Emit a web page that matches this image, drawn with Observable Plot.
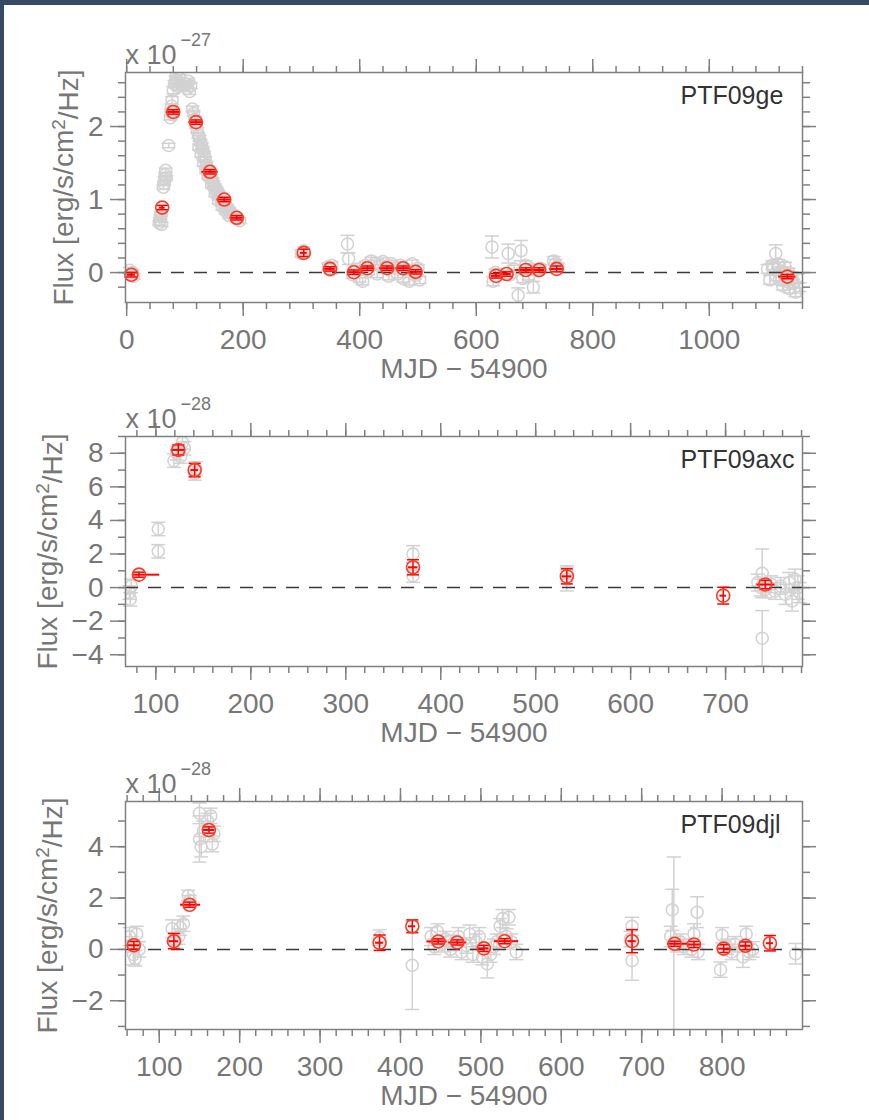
<!DOCTYPE html>
<html><head><meta charset="utf-8">
<script src="https://cdn.jsdelivr.net/npm/d3@7"></script>
<script src="https://cdn.jsdelivr.net/npm/@observablehq/plot@0.6"></script>
<style>
html,body{margin:0;padding:0;background:#fff;}
body{width:869px;height:1120px;position:relative;overflow:hidden;font-family:"Liberation Sans",Arial,sans-serif;}
#barTop{position:absolute;left:0;top:0;width:869px;height:5px;background:#364b63;z-index:2}
#barLeft{position:absolute;left:0;top:0;width:4px;height:1120px;background:#364b63;z-index:2}
svg{display:block}
</style></head><body>
<div id="barTop"></div><div id="barLeft"></div>
<div id="chart"></div>
<script>
// ---------- shared labels ----------
const xLabel = "MJD − 54900";
const yLabel = "Flux [erg/s/cm²/Hz]";

// ---------- PTF09ge (x 10^-27) ----------
const p1Name = "PTF09ge";
const p1Exp = "−27";
const p1XMajor = [0, 200, 400, 600, 800, 1000];
const p1YMajor = [0, 1, 2];
const p1GreyX = [5,8,10,12, 56,57,58,59,60, 63,64,65,66,67,68, 72, 75,76,77,78,79, 80,82,84,85,87,89,91,93, 102,104,106,108,110,
  113,115,117,119,121,123,125,127,129,131,133,135,137,139,141,143,145,147,149,151,153,155,157,159,161,163,165,167,169,171,173,176,179,182,186,190,194,
  124,128,132,136,140,146,152,158,164,170,176,
  300,304, 346,350,352, 379,381, 388,395,400,405,410,415,420,425,430,435,440,445,450,455,460,465,470,475,480,485,490,495,500,503,
  627,629,633, 655,658,665,672,677,680,685,690,695,698,705,710, 733,736,740,
  1100,1104,1108,1110,1114,1115,1118,1120,1124,1126,1130,1133,1136,1138,1140,1144,1148,1152,1155];
const p1GreyY = [0.03,-0.02,0.0,-0.05, 0.68,0.72,0.76,0.80,0.66, 1.17,1.22,1.28,1.34,1.40,1.30, 1.74, 2.12,2.20,2.28,2.36,2.16, 2.50,2.58,2.64,2.70,2.62,2.55,2.66,2.58, 2.58,2.52,2.62,2.48,2.56,
  2.24,2.18,2.10,2.02,1.95,1.88,1.84,1.78,1.74,1.68,1.62,1.55,1.48,1.42,1.38,1.34,1.30,1.26,1.22,1.18,1.15,1.12,1.09,1.06,1.03,1.00,0.97,0.95,0.92,0.90,0.88,0.85,0.82,0.79,0.76,0.73,0.71,
  1.72,1.62,1.50,1.40,1.32,1.20,1.08,0.98,0.90,0.84,0.78,
  0.26,0.30, 0.08,0.03,0.10, 0.39,0.19, -0.03,0.05,-0.08,-0.12,0.10,0.02,0.16,0.12,-0.02,0.10,0.15,0.08,-0.05,0.12,0.06,-0.02,0.10,-0.08,0.04,-0.12,0.12,-0.04,0.06,-0.10,
  0.35,-0.12,0.0, 0.26,-0.03,0.05,-0.31,0.30,-0.08,0.10,-0.05,0.05,-0.20,0.02,0.06, 0.16,0.12,0.08,
  0.05,-0.10,0.10,0.06,0.26,-0.05,0.12,-0.10,0.02,-0.18,0.08,-0.12,0.0,-0.22,-0.05,-0.15,-0.27,-0.08,-0.20];
const p1GreyE = [0.04,0.04,0.04,0.04, 0.03,0.03,0.03,0.03,0.03, 0.03,0.03,0.03,0.03,0.03,0.03, 0.03, 0.03,0.03,0.03,0.05,0.03, 0.05,0.05,0.05,0.05,0.05,0.05,0.05,0.04, 0.04,0.04,0.04,0.04,0.04,
  0.04,0.04,0.04,0.04,0.04,0.04,0.04,0.04,0.04,0.04,0.04,0.04,0.04,0.04,0.04,0.04,0.04,0.04,0.04,0.04,0.04,0.04,0.04,0.04,0.04,0.04,0.04,0.04,0.04,0.04,0.04,0.04,0.04,0.04,0.04,0.04,0.04,
  0.04,0.04,0.04,0.04,0.04,0.04,0.04,0.04,0.04,0.04,0.04,
  0.05,0.05, 0.05,0.05,0.05, 0.12,0.08, 0.05,0.05,0.05,0.05,0.05,0.05,0.05,0.05,0.05,0.05,0.05,0.05,0.05,0.05,0.05,0.05,0.05,0.05,0.05,0.05,0.05,0.05,0.05,0.05,
  0.15,0.06,0.05, 0.13,0.05,0.05,0.10,0.14,0.06,0.06,0.05,0.05,0.08,0.05,0.05, 0.06,0.06,0.05,
  0.06,0.06,0.06,0.06,0.12,0.06,0.06,0.06,0.06,0.06,0.06,0.06,0.06,0.06,0.06,0.06,0.06,0.06,0.06];
const p1RedX = [8, 61, 80, 119, 143, 167.5, 189, 304, 349, 390, 413, 447, 474.5, 496, 634, 652, 685, 708, 738, 1134];
const p1RedY = [-0.03, 0.89, 2.20, 2.06, 1.38, 1.00, 0.75, 0.27, 0.05, 0.005, 0.06, 0.06, 0.06, 0.01, -0.045, -0.02, 0.035, 0.035, 0.05, -0.055];
const p1RedE = [0.03, 0.03, 0.03, 0.03, 0.03, 0.03, 0.03, 0.05, 0.03, 0.03, 0.03, 0.03, 0.03, 0.03, 0.03, 0.03, 0.03, 0.03, 0.04, 0.03];
const p1RedXMin = [1, 56, 68, 107, 129, 155, 178, 298, 340, 380, 401, 434, 462, 484, 626, 644, 667, 698, 726, 1119];
const p1RedXMax = [15, 66, 92, 131, 157, 180, 200, 310, 358, 400, 425, 460, 487, 508, 642, 660, 703, 718, 750, 1149];

// ---------- PTF09axc (x 10^-28) ----------
const p2Name = "PTF09axc";
const p2Exp = "−28";
const p2XMajor = [100, 200, 300, 400, 500, 600, 700];
const p2YMajor = [-4, -2, 0, 2, 4, 6, 8];
const p2GreyX = [72,73,74, 102.5,102.5, 119,122,126,128,130, 141,142, 370.8,370.8, 532.8,533,
  738.6,738.6, 734,737,742,748,752,758,763,767,770,773,776,778];
const p2GreyY = [-0.3,-0.7,0.1, 3.49,2.16, 7.56,8.0,7.8,8.65,8.3, 6.8,7.1, 2.0,0.71, 0.5,0.9,
  0.85,-3.02, 0.3,0.0,-0.1,0.2,-0.2,0.1,-0.4,0.3,-0.8,0.5,0.0,-0.3];
const p2GreyE = [0.4,0.4,0.4, 0.4,0.4, 0.4,0.4,0.4,0.4,0.4, 0.4,0.4, 0.5,0.4, 0.7,0.4,
  1.45,1.65, 0.5,0.5,0.5,0.5,0.5,0.5,0.6,0.6,0.6,0.6,0.7,0.6];
const p2RedX = [82.2, 123.6, 140.8, 370.8, 532.8, 697.5, 741.8];
const p2RedY = [0.77, 8.2, 7.0, 1.21, 0.67, -0.48, 0.18];
const p2RedE = [0.15, 0.3, 0.4, 0.45, 0.45, 0.5, 0.25];
const p2RedXMin = [76, 116, 137, 366, 528, 694, 733];
const p2RedXMax = [104, 131, 145, 376, 538, 701, 752];

// ---------- PTF09djl (x 10^-28) ----------
const p3Name = "PTF09djl";
const p3Exp = "−28";
const p3XMajor = [100, 200, 300, 400, 500, 600, 700, 800];
const p3YMajor = [-2, 0, 2, 4];
const p3GreyX = [63,66,68,72,75,70, 116,120,124,126,130, 136,138, 150,150,152,155,160,164,166,168,
  374, 414.7,
  438,442,446,452,456,462,466,472,476,482,486,490,494,498,502,508,512,516,520,524,527,534.8,532,538,544,
  688,688,686, 738,740,736,744,748,752, 769,765,770,762, 798,800,806,812,816, 830,826,834,838, 891.4];
const p3GreyY = [0.5,0.2,-0.2,0.6,0.0,-0.35, 0.8,0.35,0.5,0.85,1.0, 2.1,1.9, 5.3,4.3,4.0,4.6,5.0,5.2,4.1,4.5,
  0.46, -0.62,
  0.5,0.1,0.7,0.2,0.4,0.0,0.25,0.5,-0.1,0.15,0.6,-0.2,0.3,0.5,-0.3,-0.56,-0.2,0.1,0.3,0.9,1.2,1.25,0.5,0.3,-0.1,
  0.9,-0.43,0.4, 1.54,0.2,0.5,0.2,0.3,0.1, 1.45,0.6,-0.1,0.0, -0.79,0.55,0.1,-0.1,0.2, 0.6,-0.3,-0.1,0.0, -0.17];
const p3GreyE = [0.35,0.3,0.4,0.3,0.3,0.3, 0.35,0.3,0.3,0.3,0.3, 0.2,0.2, 0.4,0.9,0.4,0.4,0.3,0.3,0.3,0.3,
  0.3, 1.72,
  0.35,0.3,0.3,0.3,0.3,0.3,0.3,0.35,0.3,0.3,0.35,0.3,0.3,0.35,0.3,0.55,0.3,0.3,0.3,0.3,0.35,0.3,0.3,0.3,0.3,
  0.35,0.77,0.3, 0.8,3.4,0.4,0.3,0.3,0.3, 0.6,0.4,0.3,0.3, 0.3,0.3,0.3,0.3,0.3, 0.3,0.4,0.3,0.3, 0.4];
const p3RedX = [68.4, 118.2, 137.7, 161.7, 374, 414.7, 447, 470.6, 503.7, 529.5, 688, 741, 765, 802, 829, 859.5];
const p3RedY = [0.16, 0.32, 1.74, 4.65, 0.26, 0.9, 0.31, 0.27, 0.04, 0.32, 0.32, 0.22, 0.19, 0.03, 0.14, 0.24];
const p3RedE = [0.15, 0.3, 0.1, 0.12, 0.3, 0.25, 0.1, 0.1, 0.12, 0.1, 0.45, 0.1, 0.12, 0.15, 0.15, 0.3];
const p3RedXMin = [60, 112, 126.5, 155, 369, 410, 433, 460, 497, 517, 683, 732, 757, 794, 822, 855];
const p3RedXMax = [76, 124, 151.4, 169, 379, 419, 458, 482, 510, 547, 693, 758, 774, 811, 836, 864];

// ---------- drawing ----------
const AX = "#808080", TXT = "#777777", GREY = "#d2d2d2", RED = "#ff0000", REDC = "#ff3a20";
const FONT = "'Liberation Sans', Arial, sans-serif";
const cap = {draw(ctx, size) { const w = Math.sqrt(size / Math.PI); ctx.moveTo(-w, 0); ctx.lineTo(w, 0); }};
const fmt = d => d < 0 ? "−" + Math.abs(d) : String(d);
const blank = () => "";

function panel(p) {
  const grey = p.gx.map((x, i) => ({x, y: p.gy[i], e: p.ge[i]}));
  const red = p.rx.map((x, i) => ({x, y: p.ry[i], e: p.re[i], x1: p.rxmin[i], x2: p.rxmax[i]}));
  const [y0, y1] = p.yDomain;
  const lo = d => Math.max(d.y - d.e, y0);
  const hi = d => Math.min(d.y + d.e, y1);
  const axCommon = {color: AX, strokeWidth: 1.5, label: null, fontSize: 28};
  return Plot.plot({
    width: 869, height: p.height,
    marginLeft: 125, marginRight: 67, marginTop: p.mt, marginBottom: p.mb,
    x: {domain: p.xDomain, label: null},
    y: {domain: p.yDomain, label: null},
    style: {fontFamily: FONT, background: "transparent", overflow: "visible"},
    marks: [
      // grey individual measurements
      Plot.ruleX(grey, {x: "x", y1: lo, y2: hi, stroke: GREY, strokeWidth: 1.5, clip: true}),
      Plot.dot(grey, {x: "x", y: d => d.y + d.e, filter: d => d.y + d.e <= y1, symbol: cap, r: 7, stroke: GREY, strokeWidth: 1.5, fill: "none"}),
      Plot.dot(grey, {x: "x", y: d => d.y - d.e, filter: d => d.y - d.e >= y0, symbol: cap, r: 7, stroke: GREY, strokeWidth: 1.5, fill: "none"}),
      Plot.dot(grey, {x: "x", y: "y", r: 6, stroke: GREY, strokeWidth: 1.5, fill: "none", clip: true}),
      // zero line
      Plot.ruleY([0], {stroke: "#3a3a3a", strokeWidth: 1.5, strokeDasharray: "13,10"}),
      // red binned points
      Plot.ruleY(red, {y: "y", x1: "x1", x2: "x2", stroke: RED, strokeWidth: 2}),
      Plot.ruleX(red, {x: "x", y1: lo, y2: hi, stroke: RED, strokeWidth: 1.5}),
      Plot.dot(red, {x: "x", y: d => d.y + d.e, symbol: cap, r: 6, stroke: RED, strokeWidth: 1.5, fill: "none"}),
      Plot.dot(red, {x: "x", y: d => d.y - d.e, symbol: cap, r: 6, stroke: RED, strokeWidth: 1.5, fill: "none"}),
      Plot.dot(red, {x: "x", y: "y", r: 6.5, stroke: REDC, strokeWidth: 1.6, fill: "none"}),
      // frame and axes
      Plot.frame({stroke: AX, strokeWidth: 1.5}),
      Plot.axisX(p.xMinor, {...axCommon, anchor: "bottom", tickSize: 7, tickFormat: blank}),
      Plot.axisX(p.xMajor, {...axCommon, anchor: "bottom", tickSize: 14, tickPadding: 13, tickFormat: fmt, fill: TXT}),
      Plot.axisX(p.xMinor, {...axCommon, anchor: "top", tickSize: 7, tickFormat: blank}),
      Plot.axisX(p.xMajor, {...axCommon, anchor: "top", tickSize: 14, tickFormat: blank}),
      Plot.axisY(p.yMinor, {...axCommon, anchor: "left", tickSize: 7, tickFormat: blank}),
      Plot.axisY(p.yMajor, {...axCommon, anchor: "left", tickSize: 15, tickPadding: 7, tickFormat: fmt, fill: TXT}),
      Plot.axisY(p.yMinor, {...axCommon, anchor: "right", tickSize: 7, tickFormat: blank}),
      Plot.axisY(p.yMajor, {...axCommon, anchor: "right", tickSize: 13, tickFormat: blank}),
      // texts
      Plot.text([xLabel], {text: d => d, frameAnchor: "bottom", dy: 56, lineAnchor: "top", fontSize: 28, fill: TXT}),
      Plot.text([yLabel], {text: d => d, frameAnchor: "left", dx: p.ylabDx, rotate: -90, textAnchor: "middle", lineAnchor: "middle", fontSize: 28, fill: TXT}),
      Plot.text(["x 10"], {text: d => d, frameAnchor: "top-left", dy: -28, textAnchor: "start", lineAnchor: "top", fontSize: 27, fill: TXT}),
      Plot.text([p.exp], {text: d => d, frameAnchor: "top-left", dx: 55, dy: -39, textAnchor: "start", lineAnchor: "top", fontSize: 18, fill: TXT}),
      Plot.text([p.name], {text: d => d, frameAnchor: "top-right", dx: -122, dy: 14, textAnchor: "start", lineAnchor: "top", fontSize: 25, fill: "#333333"})
    ]
  });
}

const chart = document.getElementById("chart");
chart.append(panel({
  name: p1Name, exp: p1Exp, height: 370, mt: 72, mb: 68,
  xDomain: [-2, 1160], yDomain: [-0.41, 2.74],
  xMajor: p1XMajor, xMinor: d3.range(0, 1161, 40),
  yMajor: p1YMajor, yMinor: d3.range(-0.2, 2.7, 0.2),
  gx: p1GreyX, gy: p1GreyY, ge: p1GreyE,
  rx: p1RedX, ry: p1RedY, re: p1RedE, rxmin: p1RedXMin, rxmax: p1RedXMax,
  ylabDx: -61
}));
chart.append(panel({
  name: p2Name, exp: p2Exp, height: 370, mt: 66, mb: 74,
  xDomain: [68, 781], yDomain: [-4.7, 9],
  xMajor: p2XMajor, xMinor: d3.range(80, 781, 20),
  yMajor: p2YMajor, yMinor: d3.range(-4, 9.5, 1),
  gx: p2GreyX, gy: p2GreyY, ge: p2GreyE,
  rx: p2RedX, ry: p2RedY, re: p2RedE, rxmin: p2RedXMin, rxmax: p2RedXMax,
  ylabDx: -77
}));
chart.append(panel({
  name: p3Name, exp: p3Exp, height: 380, mt: 61, mb: 91,
  xDomain: [58, 900], yDomain: [-3.12, 5.76],
  xMajor: p3XMajor, xMinor: d3.range(60, 881, 20),
  yMajor: p3YMajor, yMinor: d3.range(-3, 5.5, 1),
  gx: p3GreyX, gy: p3GreyY, ge: p3GreyE,
  rx: p3RedX, ry: p3RedY, re: p3RedE, rxmin: p3RedXMin, rxmax: p3RedXMax,
  ylabDx: -77
}));

// render the "²" of the flux unit as a raised, smaller "2" (still real text)
const SVGNS = "http://www.w3.org/2000/svg";
chart.querySelectorAll("text").forEach(t => {
  if (t.textContent !== yLabel) return;
  const [pre, post] = yLabel.split("²");
  t.textContent = "";
  const a = document.createElementNS(SVGNS, "tspan"); a.textContent = pre;
  const b = document.createElementNS(SVGNS, "tspan"); b.textContent = "2";
  b.setAttribute("dy", "-0.45em"); b.setAttribute("font-size", "19");
  const c = document.createElementNS(SVGNS, "tspan"); c.textContent = post;
  c.setAttribute("dy", "0.45em");
  t.append(a, b, c);
});
</script>
</body></html>
